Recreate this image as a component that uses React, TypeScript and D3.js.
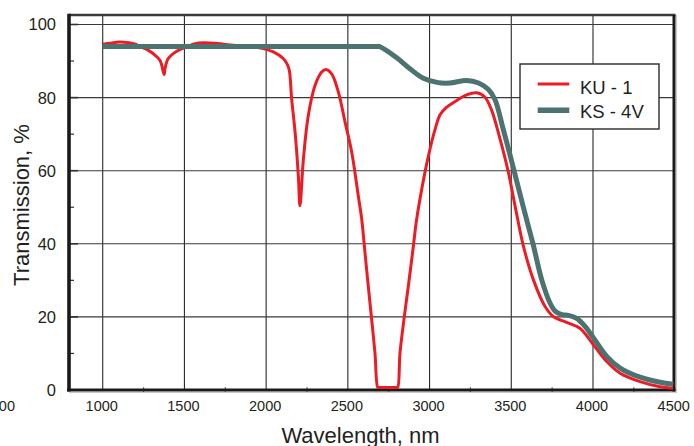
import React from "react";
import * as d3 from "d3";

// Axis ticks
const wavelengthTicks = [500, 1000, 1500, 2000, 2500, 3000, 3500, 4000, 4500];
const wavelengthMinor = [1250, 1750, 2250, 2750, 3250, 3750, 4250];
const transmissionTicks = [0, 20, 40, 60, 80, 100];
const transmissionMinor = [10, 30, 50, 70, 90];

// KU - 1 spectrum (wavelength nm, transmission %)
const ku1Wavelength = [
  1000, 1050, 1100, 1160, 1200, 1228, 1269, 1310, 1350, 1371, 1376, 1381, 1401, 1453, 1514,
  1560, 1620, 1700, 1800, 1900, 1983, 2044, 2105, 2130, 2142, 2156, 2177, 2197, 2207, 2228,
  2258, 2299, 2340, 2366, 2401, 2442, 2483, 2524, 2564, 2585, 2605, 2625, 2646, 2666, 2683,
  2690, 2745, 2798, 2805, 2819, 2843, 2870, 2901, 2921, 2972, 3003, 3035, 3064, 3100, 3166,
  3230, 3288, 3339, 3380, 3431, 3480, 3527, 3574, 3635, 3706, 3757, 3839, 3920, 4002, 4084,
  4166, 4288, 4410, 4490,
];
const ku1Transmission = [
  94.6, 94.9, 95.2, 95.0, 94.6, 93.9, 93.2, 92.0, 90.2, 87.0, 86.3, 87.9, 90.7, 92.7, 93.9,
  94.7, 95.0, 94.8, 94.3, 94.0, 93.4, 92.5, 90.7, 89.0, 87.4, 79.7, 70.6, 58.6, 50.4, 63.2,
  75.1, 83.3, 87.0, 87.7, 86.5, 81.5, 73.3, 65.0, 53.1, 46.7, 37.5, 28.4, 19.2, 10.1, 0.7,
  0.7, 0.7, 0.7, 0.7, 10.1, 19.2, 28.4, 39.4, 46.7, 59.6, 66.0, 71.5, 75.3, 77.2, 79.2,
  80.8, 81.3, 80.1, 76.5, 68.7, 60.0, 49.5, 39.4, 30.2, 22.9, 20.1, 18.5, 16.9, 12.4, 7.8,
  4.6, 2.3, 0.9, 0.5,
];

// KS - 4V spectrum (wavelength nm, transmission %)
const ks4vWavelength = [
  1000, 1800, 2600, 2680, 2691, 2799, 2880, 2962, 3053, 3125, 3227, 3300, 3360, 3400, 3450,
  3517, 3575, 3633, 3686, 3737, 3770, 3810, 3850, 3900, 3950, 4002, 4084, 4166, 4288, 4410,
  4492,
];
const ks4vTransmission = [
  94.0, 94.0, 94.0, 94.0, 94.0, 90.9, 87.9, 85.3, 84.1, 84.0, 84.7, 84.0, 82.2, 79.5, 71.5,
  60.0, 49.8, 40.0, 30.2, 23.8, 21.5, 20.6, 20.4, 19.6, 17.5, 14.3, 9.2, 6.0, 3.5, 2.1,
  1.6,
];

const seriesNames = ["KU - 1", "KS - 4V"];

const W = 694;
const H = 446;
const FONT = "'Liberation Sans', Arial, Helvetica, sans-serif";
const TEXT = "#231f20";
const RED = "#ed1c24";
const SLATE = "#4c7370";

const plotLeft = 69;
const plotRight = 674;
const plotTop = 15;
const plotBottom = 390;

export default function App() {
  const x = d3.scaleLinear().domain([500, 4500]).range([21, 674.7]);
  const y = d3.scaleLinear().domain([0, 100]).range([390, 24.5]);

  const line = d3
    .line<[number, number]>()
    .x((d) => x(d[0]))
    .y((d) => y(d[1]))
    .curve(d3.curveCatmullRom.alpha(0.5));

  const ku1 = ku1Wavelength.map((w, i) => [w, ku1Transmission[i]] as [number, number]);
  const ks4v = ks4vWavelength.map((w, i) => [w, ks4vTransmission[i]] as [number, number]);

  return (
    <svg
      width={W}
      height={H}
      style={{ position: "absolute", left: 0, top: 0, background: "#fff" }}
      fontFamily={FONT}
    >
      {/* grid */}
      {wavelengthTicks
        .filter((t) => t >= 1000 && t <= 4000)
        .map((t) => (
          <line key={"gx" + t} x1={x(t)} x2={x(t)} y1={plotTop} y2={plotBottom} stroke="#2a2a2a" strokeWidth={1.1} />
        ))}
      {transmissionTicks
        .filter((t) => t > 0)
        .map((t) => (
          <line key={"gy" + t} x1={plotLeft} x2={plotRight} y1={y(t)} y2={y(t)} stroke="#3a3a3a" strokeWidth={1.1} />
        ))}

      {/* minor ticks */}
      {transmissionMinor.map((t) => (
        <line key={"my" + t} x1={plotLeft} x2={plotLeft + 5} y1={y(t)} y2={y(t)} stroke="#333" strokeWidth={1.2} />
      ))}
      {transmissionTicks.map((t) => (
        <line key={"My" + t} x1={plotLeft} x2={plotLeft + 9} y1={y(t)} y2={y(t)} stroke="#333" strokeWidth={1.6} />
      ))}
      {wavelengthMinor.map((t) => (
        <line key={"mx" + t} x1={x(t)} x2={x(t)} y1={plotBottom - 3} y2={plotBottom + 3} stroke="#777" strokeWidth={1.2} />
      ))}

      {/* frame */}
      <line x1={plotLeft} x2={plotRight + 1.5} y1={plotTop} y2={plotTop} stroke="#3a3a3a" strokeWidth={2.6} />
      <line x1={plotRight} x2={plotRight} y1={plotTop} y2={plotBottom + 1.5} stroke="#1a1a1a" strokeWidth={3} />
      <line x1={plotRight + 2.5} x2={plotRight + 2.5} y1={plotTop} y2={plotBottom + 3} stroke="#c8c8c8" strokeWidth={1} />
      <line x1={plotLeft - 2} x2={plotRight + 1.5} y1={plotBottom} y2={plotBottom} stroke="#1a1a1a" strokeWidth={3.2} />
      <line x1={plotLeft} x2={plotRight + 3} y1={plotBottom + 2.5} y2={plotBottom + 2.5} stroke="#c8c8c8" strokeWidth={1} />
      <line x1={plotLeft} x2={plotLeft} y1={plotTop - 1.3} y2={plotBottom + 1.6} stroke="#1a1a1a" strokeWidth={3.6} />

      {/* curves */}
      <path d={line(ku1) ?? ""} fill="none" stroke={RED} strokeWidth={3} strokeLinejoin="round" />
      <path d={line(ks4v) ?? ""} fill="none" stroke={SLATE} strokeWidth={5} strokeLinejoin="round" />

      {/* y tick labels */}
      {transmissionTicks.map((t) => (
        <text key={"ty" + t} x={56} y={y(t)} dy="0.36em" textAnchor="end" fontSize={16.5} fill={TEXT}>
          {t}
        </text>
      ))}

      {/* x tick labels */}
      {wavelengthTicks.map((t, i) => (
        <text
          key={"tx" + t}
          x={i === 0 ? x(t) - 6 : x(t) - 1}
          y={411}
          textAnchor={i === 0 ? "end" : "middle"}
          fontSize={14.5}
          fill={TEXT}
        >
          {t}
        </text>
      ))}

      {/* axis titles */}
      <text x={360.5} y={442.5} textAnchor="middle" fontSize={22} fill={TEXT}>
        Wavelength, nm
      </text>
      <text transform="translate(28.5,205) rotate(-90)" textAnchor="middle" fontSize={22} fill={TEXT}>
        Transmission, %
      </text>

      {/* legend */}
      <rect x={520} y={64} width={139} height={65} fill="#fff" stroke="#2a2a2a" strokeWidth={1.4} />
      <line x1={537.7} x2={569.3} y1={84} y2={84} stroke={RED} strokeWidth={3} />
      <line x1={537.7} x2={569.3} y1={110.3} y2={110.3} stroke={SLATE} strokeWidth={5.5} />
      <text x={580} y={94} fontSize={18.5} fill={TEXT}>
        {seriesNames[0]}
      </text>
      <text x={580} y={117.5} fontSize={18.5} fill={TEXT}>
        {seriesNames[1]}
      </text>
    </svg>
  );
}
